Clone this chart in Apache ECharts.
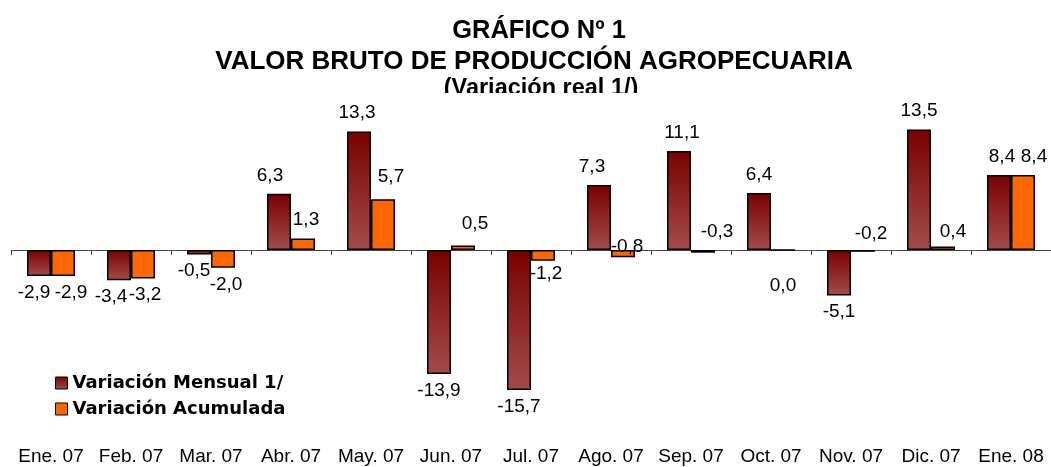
<!DOCTYPE html>
<html>
<head>
<meta charset="utf-8">
<script src="https://cdn.jsdelivr.net/npm/echarts@6/dist/echarts.min.js"></script>
<style>
html,body{margin:0;padding:0;background:#fff;}
#chart{width:1051px;height:467px;}
</style>
</head>
<body>
<div id="chart"></div>
<script>
const categories = ['Ene. 07','Feb. 07','Mar. 07','Abr. 07','May. 07','Jun. 07','Jul. 07','Ago. 07','Sep. 07','Oct. 07','Nov. 07','Dic. 07','Ene. 08'];
const mensual = [-2.9, -3.4, -0.5, 6.3, 13.3, -13.9, -15.7, 7.3, 11.1, 6.4, -5.1, 13.5, 8.4];
const acumulada = [-2.9, -3.2, -2.0, 1.3, 5.7, 0.5, -1.2, -0.8, -0.3, 0.0, -0.2, 0.4, 8.4];
const seriesNames = ['Variación Mensual 1/', 'Variación Acumulada'];
const titleLines = ['GRÁFICO Nº 1', 'VALOR BRUTO DE PRODUCCIÓN AGROPECUARIA', '(Variación real 1/)'];

// label placement tweaks (Excel moved some labels to avoid collisions)
const labelTweakMensual = {0: {dx: -5}, 1: {dx: -8}, 2: {dx: -5}, 3: {dx: -9}, 4: {dx: -2}, 7: {dx: -7}, 8: {dx: 3}, 12: {dx: 3}};
const labelTweakAcum = {
  0: {dx: 8}, 1: {dx: 2}, 2: {dx: 3}, 3: {dx: 3}, 4: {dx: 8, dy: -4}, 5: {dx: 12, dy: -3}, 6: {dx: 3, dy: -3},
  7: {dx: 4, dy: -27}, 8: {pos: 'top', dx: 14}, 9: {pos: 'bottom', dy: 18},
  10: {pos: 'top', dx: 8, dy: 2}, 11: {dx: 10, dy: 4}, 12: {dx: 11}
};

const fmt = v => v.toFixed(1).replace('.', ',');
const toData = (arr, tweaks) => arr.map((v, i) => {
  const t = tweaks[i] || {};
  const pos = t.pos || (v < 0 ? 'bottom' : 'top');
  return {
    value: v,
    label: {position: pos, distance: pos === 'top' ? 9 : 7, offset: [t.dx || 0, t.dy || 0]}
  };
});

const FONT = 'Liberation Sans, Arial, sans-serif';
const labelStyle = {
  show: true,
  formatter: p => fmt(p.value),
  fontFamily: FONT,
  fontSize: 19,
  color: '#000'
};

const chart = echarts.init(document.getElementById('chart'), null, {renderer: 'canvas'});
chart.setOption({
  backgroundColor: '#fff',
  animation: false,
  title: [
    {text: titleLines[0], left: 539, top: 18, padding: 0, textAlign: 'center', textVerticalAlign: 'top',
     textStyle: {fontFamily: FONT, fontWeight: 'bold', fontSize: 25.5, lineHeight: 25, color: '#000'}},
    {text: titleLines[1], left: 534, top: 49, padding: 0, textAlign: 'center', textVerticalAlign: 'top',
     textStyle: {fontFamily: FONT, fontWeight: 'bold', fontSize: 26, lineHeight: 26, color: '#000'}},
    {text: titleLines[2], left: 541, top: 77, padding: 0, textAlign: 'center', textVerticalAlign: 'top',
     textStyle: {fontFamily: FONT, fontWeight: 'bold', fontSize: 23.5, lineHeight: 23, color: '#000'}}
  ],
  graphic: [
    {type: 'rect', z: 100, silent: true, shape: {x: 420, y: 93, width: 240, height: 9}, style: {fill: '#fff'}}
  ],
  legend: {
    orient: 'vertical',
    left: 55,
    top: 374,
    padding: 0,
    itemWidth: 12,
    itemHeight: 12,
    itemGap: 8,
    icon: 'rect',
    data: seriesNames,
    itemStyle: {borderColor: '#000', borderWidth: 1},
    textStyle: {fontFamily: 'DejaVu Sans', fontWeight: 'bold', fontSize: 18, lineHeight: 18, color: '#000'}
  },
  grid: {left: 11, width: 1040, top: 107.3, height: 303.3, containLabel: false},
  xAxis: [
    {
      type: 'category', data: categories, position: 'bottom',
      axisLine: {show: false, onZero: false},
      axisTick: {show: false},
      axisLabel: {interval: 0, margin: 37, fontFamily: FONT, fontSize: 19, color: '#000'},
      splitLine: {show: false}
    },
    {
      type: 'category', data: categories, position: 'bottom',
      axisLine: {show: true, onZero: true, lineStyle: {color: '#444', width: 1}},
      axisTick: {show: true, length: 5, lineStyle: {color: '#444', width: 1}},
      axisLabel: {show: false},
      splitLine: {show: false}
    }
  ],
  yAxis: {type: 'value', min: -18, max: 16, show: false, splitLine: {show: false}},
  series: [
    {
      name: seriesNames[0], type: 'bar', xAxisIndex: 0, barWidth: 24, barGap: '0%',
      data: toData(mensual, labelTweakMensual),
      itemStyle: {
        color: new echarts.graphic.LinearGradient(0, 0, 0, 1, [
          {offset: 0, color: '#7a0000'},
          {offset: 1, color: '#a44b4b'}
        ]),
        borderColor: '#000', borderWidth: 1.5
      },
      label: labelStyle
    },
    {
      name: seriesNames[1], type: 'bar', xAxisIndex: 0, barWidth: 24, barGap: '0%',
      data: toData(acumulada, labelTweakAcum),
      itemStyle: {color: '#ff6600', borderColor: '#000', borderWidth: 1.5},
      label: labelStyle
    }
  ]
});
</script>
</body>
</html>
